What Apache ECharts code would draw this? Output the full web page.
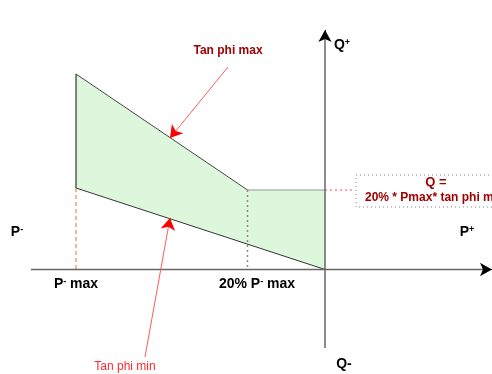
<!DOCTYPE html>
<html><head><meta charset="utf-8">
<script src="https://cdn.jsdelivr.net/npm/echarts@6/dist/echarts.min.js"></script>
<style>html,body{margin:0;padding:0;background:#fff}#c{width:492px;height:374px}</style>
</head><body><div id="c"></div>
<script>
// Schematic P-Q capability diagram (values in arbitrary units, origin = 0)
const pMax = -99.6;          // P- max
const p20 = -31;             // 20% P- max (as drawn)
const qTanMaxAtPmax = 78.2;  // tan phi max line at P- max
const qFlat = 31.8;          // Q = 20% * Pmax * tan phi max
const qTanMinAtPmax = 32.6;  // tan phi min line at P- max
const axisP = [-117.6, 66.8];
const axisQ = [-31.4, 95.8];
const arrowMax = [[-38.8, 81], [-62, 52.6]];
const arrowMin = [[-72, -35], [-62, 20.6]];
const refLineEnd = 12;

const poly = [[pMax, qTanMaxAtPmax], [p20, qFlat], [0, qFlat], [0, 0], [pMax, qTanMinAtPmax]];

const chart = echarts.init(document.getElementById('c'));
function seg(a, b, style) {
  return { type: 'line', data: [a, b], symbol: 'none', lineStyle: style, silent: true, z: 3 };
}
function head(a, b, color, size) {
  // short segment ending in an arrow head, pointing from a to b
  const t = 0.98;
  const s = [a[0] + (b[0] - a[0]) * t, a[1] + (b[1] - a[1]) * t];
  return {
    type: 'line', data: [], silent: true, z: 6,
    markLine: {
      silent: true, symbol: ['none', 'arrow'], symbolSize: size,
      label: { show: false },
      lineStyle: { color: color, width: 1, type: 'solid' },
      data: [[{ coord: s }, { coord: b }]]
    }
  };
}
const darkRed = '#a00000';
function sup(base, s, tail) {
  return { text: '{b|' + base + '}{s|' + s + '}' + (tail ? '{b|' + tail + '}' : ''), align: 'center', verticalAlign: 'middle',
    rich: { b: { font: 'bold 14px Arial', fill: '#000' }, s: { font: 'bold 9px Arial', fill: '#000', verticalAlign: 'top' } } };
}
chart.setOption({
  animation: false,
  grid: { left: 0, right: 0, top: 0, bottom: 0 },
  xAxis: { type: 'value', min: -130, max: 66.8, show: false },
  yAxis: { type: 'value', min: -41.8, max: 107.8, show: false },
  series: [
    {
      type: 'custom', silent: true, z: 1, data: [0],
      renderItem: (params, api) => ({
        type: 'polygon',
        shape: { points: poly.map(p => api.coord(p)) },
        style: { fill: '#dcf7dc', stroke: null }
      })
    },
    seg([pMax, qTanMaxAtPmax], [p20, qFlat], { color: '#444', width: 1 }),
    seg([pMax, qTanMinAtPmax], [0, 0], { color: '#333', width: 1 }),
    seg([pMax, qTanMinAtPmax], [pMax, qTanMaxAtPmax], { color: '#111', width: 1 }),
    seg([p20, qFlat], [0, qFlat], { color: '#777', width: 1.5, type: [1, 1] }),
    seg([p20, qFlat], [p20, 0], { color: '#888', width: 1.5, type: [2, 3] }),
    seg([pMax, qTanMinAtPmax], [pMax, 0], { color: '#ff6a2a', width: 1, type: [4, 3] }),
    seg([0, qFlat], [refLineEnd, qFlat], { color: '#ff5050', width: 1, type: [2, 3] }),
    seg([axisP[0], 0], [axisP[1] - 2, 0], { color: '#666', width: 1.5 }),
    seg([0, axisQ[0]], [0, axisQ[1] - 2], { color: '#666', width: 1.5 }),
    seg(arrowMax[0], arrowMax[1], { color: '#ff5a5a', width: 1 }),
    seg(arrowMin[0], arrowMin[1], { color: '#ff5a5a', width: 1 }),
    head([axisP[0], 0], [axisP[1], 0], '#000', [10, 12]),
    head([0, axisQ[0]], [0, axisQ[1]], '#000', [10, 12]),
    head(arrowMax[0], arrowMax[1], '#ff0000', [11, 12]),
    head(arrowMin[0], arrowMin[1], '#ff0000', [11, 12])
  ],
  graphic: [
    { type: 'rect', shape: { x: 356, y: 175, width: 150, height: 32 },
      style: { fill: 'none', stroke: '#888', lineWidth: 1, lineDash: [1, 3] }, z: 10 },
    { type: 'text', x: 228, y: 51, style: { text: 'Tan phi max', font: 'bold 12px Arial', fill: darkRed, align: 'center', verticalAlign: 'middle' }, z: 10 },
    { type: 'text', x: 436, y: 182, style: { text: 'Q =', font: 'bold 13px Arial', fill: darkRed, align: 'center', verticalAlign: 'middle' }, z: 10 },
    { type: 'text', x: 365, y: 198, style: { text: '20% * Pmax* tan phi max', font: 'bold 12px Arial', fill: darkRed, align: 'left', verticalAlign: 'middle' }, z: 10 },
    { type: 'text', x: 125, y: 367, style: { text: 'Tan phi min', font: '12px Arial', fill: '#ff2a2a', align: 'center', verticalAlign: 'middle' }, z: 10 },
    { type: 'text', x: 76, y: 284, style: sup('P', '-', ' max'), z: 10 },
    { type: 'text', x: 257, y: 284, style: sup('20% P', '-', ' max'), z: 10 },
    { type: 'text', x: 17, y: 232, style: sup('P', '-'), z: 10 },
    { type: 'text', x: 467, y: 232, style: sup('P', '+'), z: 10 },
    { type: 'text', x: 342, y: 45, style: sup('Q', '+'), z: 10 },
    { type: 'text', x: 344, y: 364, style: { text: 'Q-', font: 'bold 14px Arial', fill: '#000', align: 'center', verticalAlign: 'middle' }, z: 10 }
  ]
});
</script></body></html>
